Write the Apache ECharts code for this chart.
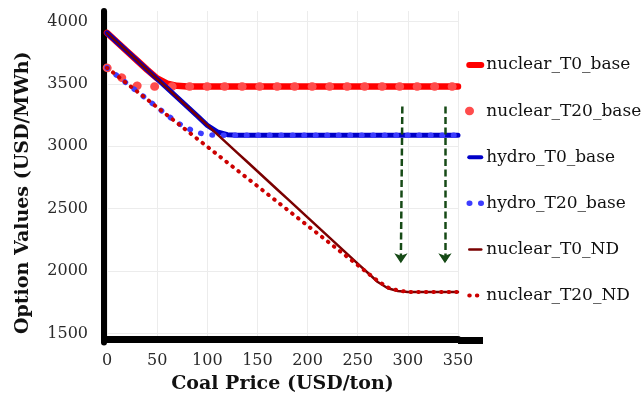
<!DOCTYPE html>
<html>
<head>
<meta charset="utf-8">
<script src="https://cdn.jsdelivr.net/npm/echarts@6/dist/echarts.min.js"></script>
<style>
  html, body { margin: 0; padding: 0; background: #ffffff; }
  #chart { width: 643px; height: 399px; }
</style>
</head>
<body>
<div id="chart"></div>
<script>
// Coal price grid (USD/ton) shared by every curve
const coalPrice = [0, 10, 20, 30, 40, 50, 60, 70, 80, 90, 100, 110, 120, 130, 140, 150, 160, 170,
  180, 190, 200, 210, 220, 230, 240, 250, 260, 270, 280, 290, 300, 310, 320, 330, 340, 350];

// Option values (USD/MWh)
const nuclearT0Base = [3910, 3836, 3762, 3688, 3614, 3545, 3503, 3485, 3480, 3480, 3480, 3480,
  3480, 3480, 3480, 3480, 3480, 3480, 3480, 3480, 3480, 3480, 3480, 3480, 3480, 3480, 3480, 3480,
  3480, 3480, 3480, 3480, 3480, 3480, 3480, 3480];
const nuclearT20Base = [3630, 3572, 3527, 3485, 3480, 3480, 3480, 3480, 3480, 3480, 3480, 3480,
  3480, 3480, 3480, 3480, 3480, 3480, 3480, 3480, 3480, 3480, 3480, 3480, 3480, 3480, 3480, 3480,
  3480, 3480, 3480, 3480, 3480, 3480, 3480, 3480];
const hydroT0Base = [3910, 3836, 3762, 3688, 3614, 3540, 3466, 3392, 3318, 3244, 3168, 3116,
  3093, 3088, 3088, 3088, 3088, 3088, 3088, 3088, 3088, 3088, 3088, 3088, 3088, 3088, 3088, 3088,
  3088, 3088, 3088, 3088, 3088, 3088, 3088, 3088];
const hydroT20Base = [3630, 3567, 3503, 3440, 3377, 3313, 3250, 3190, 3145, 3110, 3093, 3088,
  3088, 3088, 3088, 3088, 3088, 3088, 3088, 3088, 3088, 3088, 3088, 3088, 3088, 3088, 3088, 3088,
  3088, 3088, 3088, 3088, 3088, 3088, 3088, 3088];
const nuclearT0ND = [3910, 3836, 3762, 3688, 3614, 3540, 3466, 3392, 3318, 3244, 3170, 3096,
  3022, 2948, 2874, 2800, 2726, 2652, 2578, 2504, 2430, 2356, 2282, 2208, 2134, 2060, 1986, 1912,
  1862, 1840, 1832, 1831, 1831, 1831, 1831, 1831];
const nuclearT20ND = [3630, 3567, 3503, 3440, 3377, 3313, 3250, 3187, 3124, 3060, 2997, 2934,
  2870, 2807, 2744, 2681, 2617, 2554, 2491, 2427, 2364, 2301, 2237, 2174, 2111, 2047, 1984, 1921,
  1868, 1845, 1832, 1831, 1831, 1831, 1831, 1831];

// Dashed annotation arrows: [coal price, option value] start and end
const arrowStart = [[294.5, 3320], [337, 3320]];
const arrowEnd = [[293, 2062], [337, 2062]];

// Axis ticks
const xTicks = [0, 50, 100, 150, 200, 250, 300, 350];

const serif = 'DejaVu Serif';
const pairs = vals => coalPrice.map((x, i) => [x, vals[i]]);

function solid(name, vals, color, width) {
  return {
    name, type: 'line', data: pairs(vals), symbol: 'none', smooth: false,
    lineStyle: { color, width, cap: 'round', join: 'round' },
    itemStyle: { color },
    emphasis: { disabled: true }
  };
}
function dotted(name, vals, color, width, period) {
  return {
    name, type: 'line', data: pairs(vals), symbol: 'none', smooth: false,
    lineStyle: { color, width, cap: 'round', join: 'round', type: [0.5, period - 0.5] },
    itemStyle: { color },
    emphasis: { disabled: true }
  };
}

const chart = echarts.init(document.getElementById('chart'), null, { renderer: 'canvas' });

chart.setOption({
  animation: false,
  backgroundColor: '#ffffff',
  grid: { left: 107, right: 185, top: 11, bottom: 55, containLabel: false },
  xAxis: {
    type: 'value', min: 0, max: 350, interval: 50, offset: -3.5,
    name: 'Coal Price (USD/ton)', nameLocation: 'middle', nameGap: 36,
    nameTextStyle: { fontFamily: serif, fontWeight: 'bold', fontSize: 19, color: '#111' },
    axisLine: { show: true, onZero: false, lineStyle: { color: '#000', width: 7 } },
    axisTick: { show: false },
    axisLabel: { margin: 14, fontFamily: serif, fontSize: 16, color: '#2a2a2a',
      customValues: xTicks },
    splitLine: { show: true, lineStyle: { color: '#ececec', width: 1 } }
  },
  yAxis: {
    type: 'value', min: 1427, max: 4085, offset: 3,
    name: 'Option Values (USD/MWh)', nameLocation: 'middle', nameGap: 71,
    nameTextStyle: { fontFamily: serif, fontWeight: 'bold', fontSize: 19, color: '#111',
      padding: [0, 32, 0, 0] },
    axisLine: { show: true, onZero: false, lineStyle: { color: '#000', width: 6 } },
    axisTick: { show: false },
    axisLabel: { margin: 16, fontFamily: serif, fontSize: 16, color: '#2a2a2a',
      showMinLabel: false, showMaxLabel: false, formatter: v => String(v) },
    splitLine: { show: true, showMinLine: false, showMaxLine: false,
      lineStyle: { color: '#ececec', width: 1 } }
  },
  legend: {
    orient: 'vertical', left: 460, top: 50, itemGap: 26.1, itemWidth: 12, itemHeight: 9,
    textStyle: { fontFamily: serif, fontSize: 17, color: '#111', lineHeight: 20 },
    itemStyle: { opacity: 0 },
    selectedMode: false,
    data: [
      { name: 'nuclear_T0_base', lineStyle: { width: 6 } },
      { name: 'nuclear_T20_base', lineStyle: { width: 8.5, dashOffset: 0 } },
      { name: 'hydro_T0_base', lineStyle: { width: 4 } },
      { name: 'hydro_T20_base', lineStyle: { width: 5.5, dashOffset: 0 } },
      { name: 'nuclear_T0_ND', lineStyle: { width: 2.5 } },
      { name: 'nuclear_T20_ND', lineStyle: { width: 4, dashOffset: 0 } }
    ]
  },
  graphic: [
    // tail of the heavy x-axis rule beyond the plot area
    { type: 'rect', shape: { x: 458, y: 337, width: 25, height: 7 }, style: { fill: '#000' }, silent: true }
  ],
  series: [
    solid('nuclear_T0_base', nuclearT0Base, '#ff0000', 6.5),
    dotted('nuclear_T20_base', nuclearT20Base, '#ff4c4c', 8.5, 17.5),
    solid('hydro_T0_base', hydroT0Base, '#0000c8', 5),
    dotted('hydro_T20_base', hydroT20Base, '#3d3dff', 5.5, 11.5),
    solid('nuclear_T0_ND', nuclearT0ND, '#7a0000', 2.5),
    dotted('nuclear_T20_ND', nuclearT20ND, '#cc0000', 4, 7.6),
    {
      name: 'arrows', type: 'lines', coordinateSystem: 'cartesian2d', z: 5,
      symbol: ['none', 'arrow'], symbolSize: 10,
      lineStyle: { color: '#164a16', width: 2.5, type: [7, 3.5], opacity: 1 },
      data: arrowStart.map((s, i) => ({ coords: [s, arrowEnd[i]] })),
      emphasis: { disabled: true }
    }
  ]
});
</script>
</body>
</html>
